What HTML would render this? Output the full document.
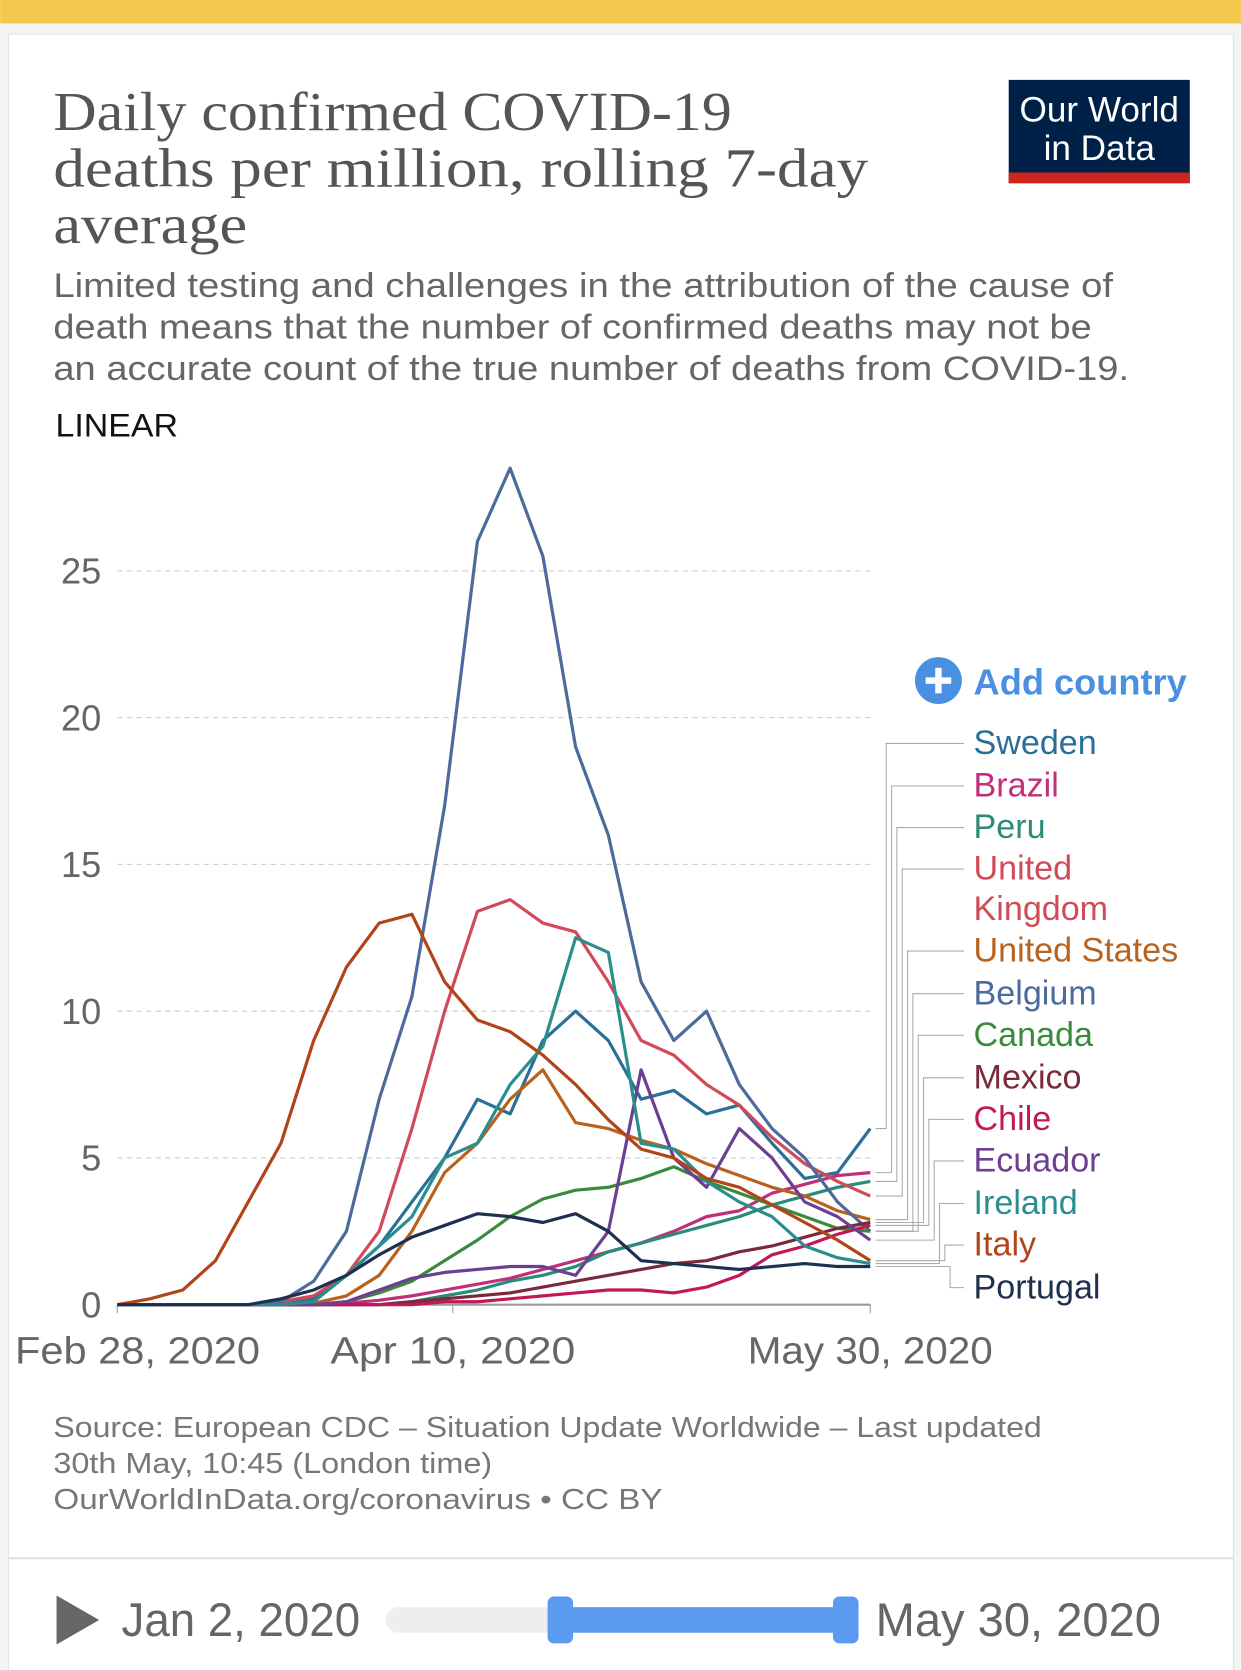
<!DOCTYPE html>
<html><head><meta charset="utf-8"><style>
html,body{margin:0;padding:0;background:#fff;}
svg{display:block;}
</style></head><body>
<svg id="chart" width="1241" height="1670" viewBox="0 0 1165 1568" xmlns="http://www.w3.org/2000/svg" font-family="Liberation Sans, sans-serif">
<rect x="0" y="0" width="1165" height="1568" fill="#f4f4f4"/>
<rect x="0" y="0" width="1165" height="22" fill="#f2c94c"/>
<rect x="8" y="32" width="1150" height="1540" fill="#fff" stroke="#e2e2e2"/>
<g font-family="Liberation Serif, serif" font-size="52" fill="#555">
<text x="50" y="122" textLength="637" lengthAdjust="spacingAndGlyphs">Daily confirmed COVID-19</text>
<text x="50" y="175" textLength="765" lengthAdjust="spacingAndGlyphs">deaths per million, rolling 7-day</text>
<text x="50" y="228" textLength="182" lengthAdjust="spacingAndGlyphs">average</text>
</g>
<g font-size="32" fill="#666">
<text x="50" y="279" textLength="995" lengthAdjust="spacingAndGlyphs">Limited testing and challenges in the attribution of the cause of</text>
<text x="50" y="318" textLength="975" lengthAdjust="spacingAndGlyphs">death means that the number of confirmed deaths may not be</text>
<text x="50" y="357" textLength="1010" lengthAdjust="spacingAndGlyphs">an accurate count of the true number of deaths from COVID-19.</text>
</g>
<g>
<rect x="947" y="75" width="170" height="97" fill="#002147"/>
<rect x="947" y="162" width="170" height="10" fill="#ce261e"/>
<text x="1032" y="114" text-anchor="middle" font-size="33" fill="#fff">Our World</text>
<text x="1032" y="150" text-anchor="middle" font-size="33" fill="#fff">in Data</text>
</g>
<text x="52" y="410" font-size="30" fill="#111" textLength="115" lengthAdjust="spacingAndGlyphs">LINEAR</text>
<g id="axes"></g>
<g id="lines"></g>
<g id="legend"></g>
<g>
<circle cx="881" cy="639" r="22" fill="#4a90e2"/>
<rect x="869" y="636" width="24" height="6" fill="#fff"/><rect x="878" y="627" width="6" height="24" fill="#fff"/>
<text x="914" y="652" font-size="34" fill="#4a90e2" font-weight="bold">Add country</text>
</g>
<g font-size="27" fill="#777">
<text x="50" y="1349" textLength="928" lengthAdjust="spacingAndGlyphs">Source: European CDC – Situation Update Worldwide – Last updated</text>
<text x="50" y="1383" textLength="412" lengthAdjust="spacingAndGlyphs">30th May, 10:45 (London time)</text>
<text x="50" y="1417" textLength="572" lengthAdjust="spacingAndGlyphs">OurWorldInData.org/coronavirus • CC BY</text>
</g>
<line x1="8" y1="1463" x2="1158" y2="1463" stroke="#e2e2e2" stroke-width="2"/>
<g>
<polygon points="53,1498 53,1544 93,1521" fill="#666"/>
<text x="114" y="1536" font-size="44" fill="#666" textLength="224" lengthAdjust="spacingAndGlyphs">Jan 2, 2020</text>
<rect x="362" y="1509" width="440" height="24" rx="12" fill="#eee"/>
<rect x="524" y="1509" width="270" height="24" fill="#5a9bf0"/>
<rect x="514" y="1499" width="24" height="44" rx="6" fill="#5a9bf0"/>
<rect x="782" y="1499" width="24" height="44" rx="6" fill="#5a9bf0"/>
<text x="822" y="1536" font-size="44" fill="#666" textLength="268" lengthAdjust="spacingAndGlyphs">May 30, 2020</text>
</g>
</svg>
<script>
const days=[0,4,8,12,16,20,24,28,32,36,40,44,48,52,56,60,64,68,72,76,80,84,88,92];
const yTicks=[0,5,10,15,20,25];
const xTickDays=[0,41,92];
const xTickLabels=["Feb 28, 2020","Apr 10, 2020","May 30, 2020"];
const countries=["Sweden","Brazil","Peru","United Kingdom","United States","Belgium","Canada","Mexico","Chile","Ecuador","Ireland","Italy","Portugal"];
const colors=["#2a6f97","#c0307a","#2a8c78","#d04a57","#b8621d","#4c6a9c","#3a8a3e","#7a2a3a","#c2185b","#6d3e91","#2b8e8e","#b04519","#1e2f50"];
const sweden=[0,0,0,0,0,0,0.2,1,2,3.5,5,7,6.5,9,10,9,7,7.3,6.5,6.8,5.5,4.3,4.5,6];
const brazil=[0,0,0,0,0,0,0,0.05,0.15,0.3,0.5,0.7,0.9,1.2,1.5,1.8,2.1,2.5,3,3.2,3.8,4.1,4.4,4.5];
const peru=[0,0,0,0,0,0,0,0,0,0.1,0.3,0.5,0.8,1,1.3,1.8,2.1,2.4,2.7,3,3.4,3.7,4,4.2];
const uk=[0,0,0,0,0,0.1,0.3,1,2.5,6,10,13.4,13.8,13,12.7,11,9,8.5,7.5,6.8,5.7,4.8,4.2,3.7];
const us=[0,0,0,0,0,0,0.05,0.3,1,2.5,4.5,5.5,7,8,6.2,6,5.6,5.3,4.8,4.4,4,3.7,3.2,2.9];
const belgium=[0,0,0,0,0,0.1,0.8,2.5,7,10.5,17,26,28.5,25.5,19,16,11,9,10,7.5,6,5,3.5,2.5];
const canada=[0,0,0,0,0,0,0,0.1,0.4,0.8,1.5,2.2,3,3.6,3.9,4,4.3,4.7,4.2,3.8,3.4,3,2.6,2.5];
const mexico=[0,0,0,0,0,0,0,0,0,0.1,0.2,0.3,0.4,0.6,0.8,1,1.2,1.4,1.5,1.8,2,2.3,2.6,2.8];
const chile=[0,0,0,0,0,0,0,0,0,0,0.1,0.1,0.2,0.3,0.4,0.5,0.5,0.4,0.6,1,1.7,2,2.4,2.7];
const ecuador=[0,0,0,0,0,0,0,0.1,0.5,0.9,1.1,1.2,1.3,1.3,1,2.5,8,5,4,6,5,3.5,3,2.2];
const ireland=[0,0,0,0,0,0,0.1,1,2,3,5,5.5,7.5,8.8,12.5,12,5.5,5.3,4.2,3.5,3,2,1.6,1.4];
const italy=[0,0.2,0.5,1.5,3.5,5.5,9,11.5,13,13.3,11,9.7,9.3,8.5,7.5,6.3,5.3,5,4.3,4,3.4,2.8,2.2,1.5];
const portugal=[0,0,0,0,0,0.2,0.5,1,1.7,2.3,2.7,3.1,3,2.8,3.1,2.5,1.5,1.4,1.3,1.2,1.3,1.4,1.3,1.3];
const series=[sweden,brazil,peru,uk,us,belgium,canada,mexico,chile,ecuador,ireland,italy,portugal];
const NS="http://www.w3.org/2000/svg";
const x=d=>110+d*(817-110)/92;
const y=v=>1225-v*(1225-536)/25;
function mk(tag,attrs,parent){const e=document.createElementNS(NS,tag);for(const k in attrs)e.setAttribute(k,attrs[k]);parent.appendChild(e);return e;}
const axes=document.getElementById('axes');
yTicks.forEach(t=>{
  if(t>0){const gl=mk('line',{x1:110,x2:817,y1:y(t),y2:y(t),stroke:'#ccc','stroke-dasharray':'5,4'},axes);
  
  }
  const tx=mk('text',{x:95,y:y(t)+12,'text-anchor':'end','font-size':34,fill:'#666'},axes);
  tx.textContent=t;
  
  
});
const base=mk('line',{x1:110,x2:817,y1:y(0),y2:y(0),stroke:'#999','stroke-width':2},axes);


xTickDays.forEach((d,i)=>{
  const tk=mk('line',{x1:x(d),x2:x(d),y1:y(0),y2:y(0)+8,stroke:'#999'},axes);
  
  
  let cx=x(d);
  if(cx-115<14) cx=14+115;
  if(cx+120>940) cx=940-120;
  const tx=mk('text',{x:cx,y:1280,'text-anchor':'middle','font-size':36,fill:'#666',textLength:230,lengthAdjust:'spacingAndGlyphs'},axes);
  tx.textContent=xTickLabels[i];
  
  
});
const lines=document.getElementById('lines');
series.forEach((s,i)=>{
  const p=mk('polyline',{points:s.map((v,j)=>x(days[j])+','+y(v)).join(' '),fill:'none',stroke:colors[i],'stroke-width':3,'stroke-linejoin':'round'},lines);
  
  
});
const legend=document.getElementById('legend');
const labelY=[708,748,787,826,903,943,982,1022,1061,1100,1140,1179,1219];
countries.forEach((c,i)=>{
  const ly=labelY[i]-10;
  const ey=y(series[i][series[i].length-1]);
  const xk=832+i*5;
  const pl=mk('polyline',{points:`822,${ey} ${xk},${ey} ${xk},${ly} 905,${ly}`,fill:'none',stroke:'#aaa','stroke-width':1},legend);
  
  
  const t=mk('text',{x:914,y:labelY[i],'font-size':32,fill:colors[i]},legend);
  
  
  if(c==="United Kingdom"){t.textContent="United";const t2=mk('text',{x:914,y:864,'font-size':32,fill:colors[i]},legend);t2.textContent="Kingdom";
  
  }
  else t.textContent=c;
});
</script>
</body></html>
